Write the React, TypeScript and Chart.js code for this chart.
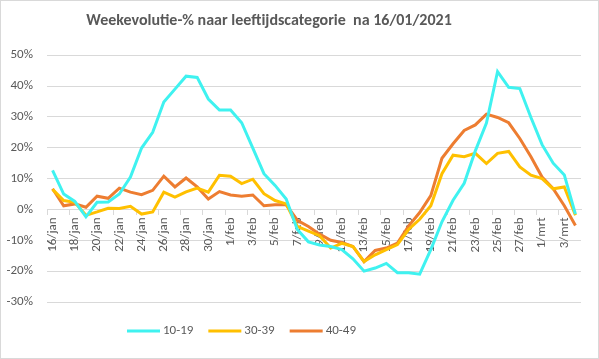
import React, { useEffect, useRef } from 'react';
import { Chart, registerables } from 'chart.js';

Chart.register(...registerables);

const chartTitle = 'Weekevolutie-% naar leeftijdscategorie  na 16/01/2021';

const categories = [
  '16/jan', '17/jan', '18/jan', '19/jan', '20/jan', '21/jan', '22/jan', '23/jan',
  '24/jan', '25/jan', '26/jan', '27/jan', '28/jan', '29/jan', '30/jan', '31/jan',
  '1/feb', '2/feb', '3/feb', '4/feb', '5/feb', '6/feb', '7/feb', '8/feb',
  '9/feb', '10/feb', '11/feb', '12/feb', '13/feb', '14/feb', '15/feb', '16/feb',
  '17/feb', '18/feb', '19/feb', '20/feb', '21/feb', '22/feb', '23/feb', '24/feb',
  '25/feb', '26/feb', '27/feb', '28/feb', '1/mrt', '2/mrt', '3/mrt', '4/mrt',
];

const seriesNames = ['10-19', '30-39', '40-49'];

const values1019 = [
  12.7, 5, 2.6, -2.4, 2.3, 2.4, 5, 10.5, 19.9, 25, 34.8, 39, 43.2, 42.8, 35.8, 32.2,
  32.2, 28.1, 19.9, 11.6, 7.8, 3.4, -6.5, -10.5, -11.5, -12, -13, -16, -20, -19, -17.5, -20.5,
  -20.5, -21, -13, -4, 3, 8.5, 19, 28, 44.7, 39.6, 39.2, 29.8, 21, 15, 11.2, -1.5,
];

const values3039 = [
  6.5, 2.9, 2.3, -1.9, -0.8, 0.4, 0.3, 1, -1.5, -0.8, 5.6, 4, 5.7, 6.9, 5.6, 11.1,
  10.8, 8.4, 9.8, 5.1, 2.9, 1.8, -5.5, -7, -8.5, -12.5, -11, -12, -16.9, -14.7, -13, -11.4,
  -6.5, -3.2, 1.2, 11.6, 17.6, 17.1, 18.2, 14.9, 18.2, 18.8, 13.8, 11.1, 10, 6.7, 7.3, -1.9,
];

const values4049 = [
  6.7, 1.2, 1.8, 0.7, 4.3, 3.6, 6.9, 5.6, 4.8, 6.2, 10.8, 7.3, 10.2, 7.3, 3.4, 5.8,
  4.7, 4.3, 4.7, 1.2, 1.5, 1.5, -3.5, -5.5, -8, -10, -10.7, -12, -16.9, -13.3, -12.5, -10.9,
  -5.4, -1, 4.5, 16.6, 21.3, 25.6, 27.4, 30.9, 29.8, 28.1, 23, 17.1, 10.5, 6.7, 1.2, -5.2,
];

const seriesColors = ['#3FF2F0', '#FFC000', '#ED7D31'];

const yMin = -30;
const yMax = 50;
const yStep = 10;

const FONT = 'Carlito, Calibri, Lato, sans-serif';
const TEXT = '#595959';
const GRID = '#d9d9d9';

const framePlugin = {
  id: 'frame',
  afterLayout(chart: any) {
    const tb = chart.titleBlock;
    if (tb) {
      tb.left = 0;
      tb.right = 538;
      tb.width = 538;
    }
  },
  beforeDraw(chart: any) {
    const { ctx, width, height } = chart;
    ctx.save();
    ctx.fillStyle = '#ffffff';
    ctx.fillRect(0, 0, width, height);
    ctx.strokeStyle = GRID;
    ctx.lineWidth = 1;
    ctx.strokeRect(0.5, 0.5, width - 1, height - 1);
    ctx.restore();
  },
};

const legendPlugin = {
  id: 'customLegend',
  afterDraw(chart: any) {
    const { ctx, chartArea } = chart;
    ctx.save();
    ctx.font = `13px ${FONT}`;
    ctx.textBaseline = 'middle';
    ctx.textAlign = 'left';
    const y = chartArea.bottom + 29;
    let x = chartArea.left + 80;
    chart.data.datasets.forEach((ds: any) => {
      ctx.strokeStyle = ds.borderColor;
      ctx.lineWidth = 3;
      ctx.beginPath();
      ctx.moveTo(x, y);
      ctx.lineTo(x + 33, y);
      ctx.stroke();
      ctx.fillStyle = TEXT;
      ctx.fillText(ds.label, x + 36, y);
      x += 36 + ctx.measureText(ds.label).width + 15;
    });
    ctx.restore();
  },
};

export default function App() {
  const ref = useRef<HTMLCanvasElement>(null);

  useEffect(() => {
    document.body.style.margin = '0';
    const seriesValues = [values1019, values3039, values4049];
    const chart = new Chart(ref.current as HTMLCanvasElement, {
      type: 'line',
      data: {
        labels: categories,
        datasets: seriesNames.map((name, i) => ({
          label: name,
          data: seriesValues[i],
          borderColor: seriesColors[i],
          backgroundColor: seriesColors[i],
          borderWidth: 3,
          pointRadius: 0,
          tension: 0,
          fill: false,
        })),
      },
      options: {
        responsive: false,
        animation: false,
        layout: { padding: { left: 0, right: 18, top: 0, bottom: 57 } },
        plugins: {
          legend: { display: false },
          tooltip: { enabled: false },
          title: {
            display: true,
            text: chartTitle,
            color: TEXT,
            font: { family: FONT, size: 16, weight: 'bold' },
            padding: { top: 11, bottom: 25 },
          },
        },
        scales: {
          x: {
            type: 'category',
            position: { y: 0 },
            offset: true,
            grid: {
              display: true,
              drawOnChartArea: false,
              drawTicks: true,
              tickLength: 5,
              offset: true,
              color: (ctx: any) => (ctx.index % 2 === 0 ? GRID : 'rgba(0,0,0,0)'),
            },
            border: { display: true, color: GRID },
            ticks: {
              autoSkip: false,
              maxRotation: 90,
              minRotation: 90,
              padding: 3,
              color: TEXT,
              font: { family: FONT, size: 13 },
              callback: (_v: any, i: number) => (i % 2 === 0 ? categories[i] : ''),
            },
          },
          y: {
            min: yMin,
            max: yMax,
            ticks: {
              stepSize: yStep,
              padding: 14,
              color: TEXT,
              font: { family: FONT, size: 13 },
              callback: (v: any) => `${v}%`,
            },
            grid: { color: GRID, drawTicks: false },
            border: { display: false },
            afterFit: (s: any) => {
              s.width = 47;
            },
          },
        },
      } as any,
      plugins: [framePlugin, legendPlugin],
    });
    return () => chart.destroy();
  }, []);

  return <canvas ref={ref} width={599} height={359} style={{ display: 'block' }} />;
}
